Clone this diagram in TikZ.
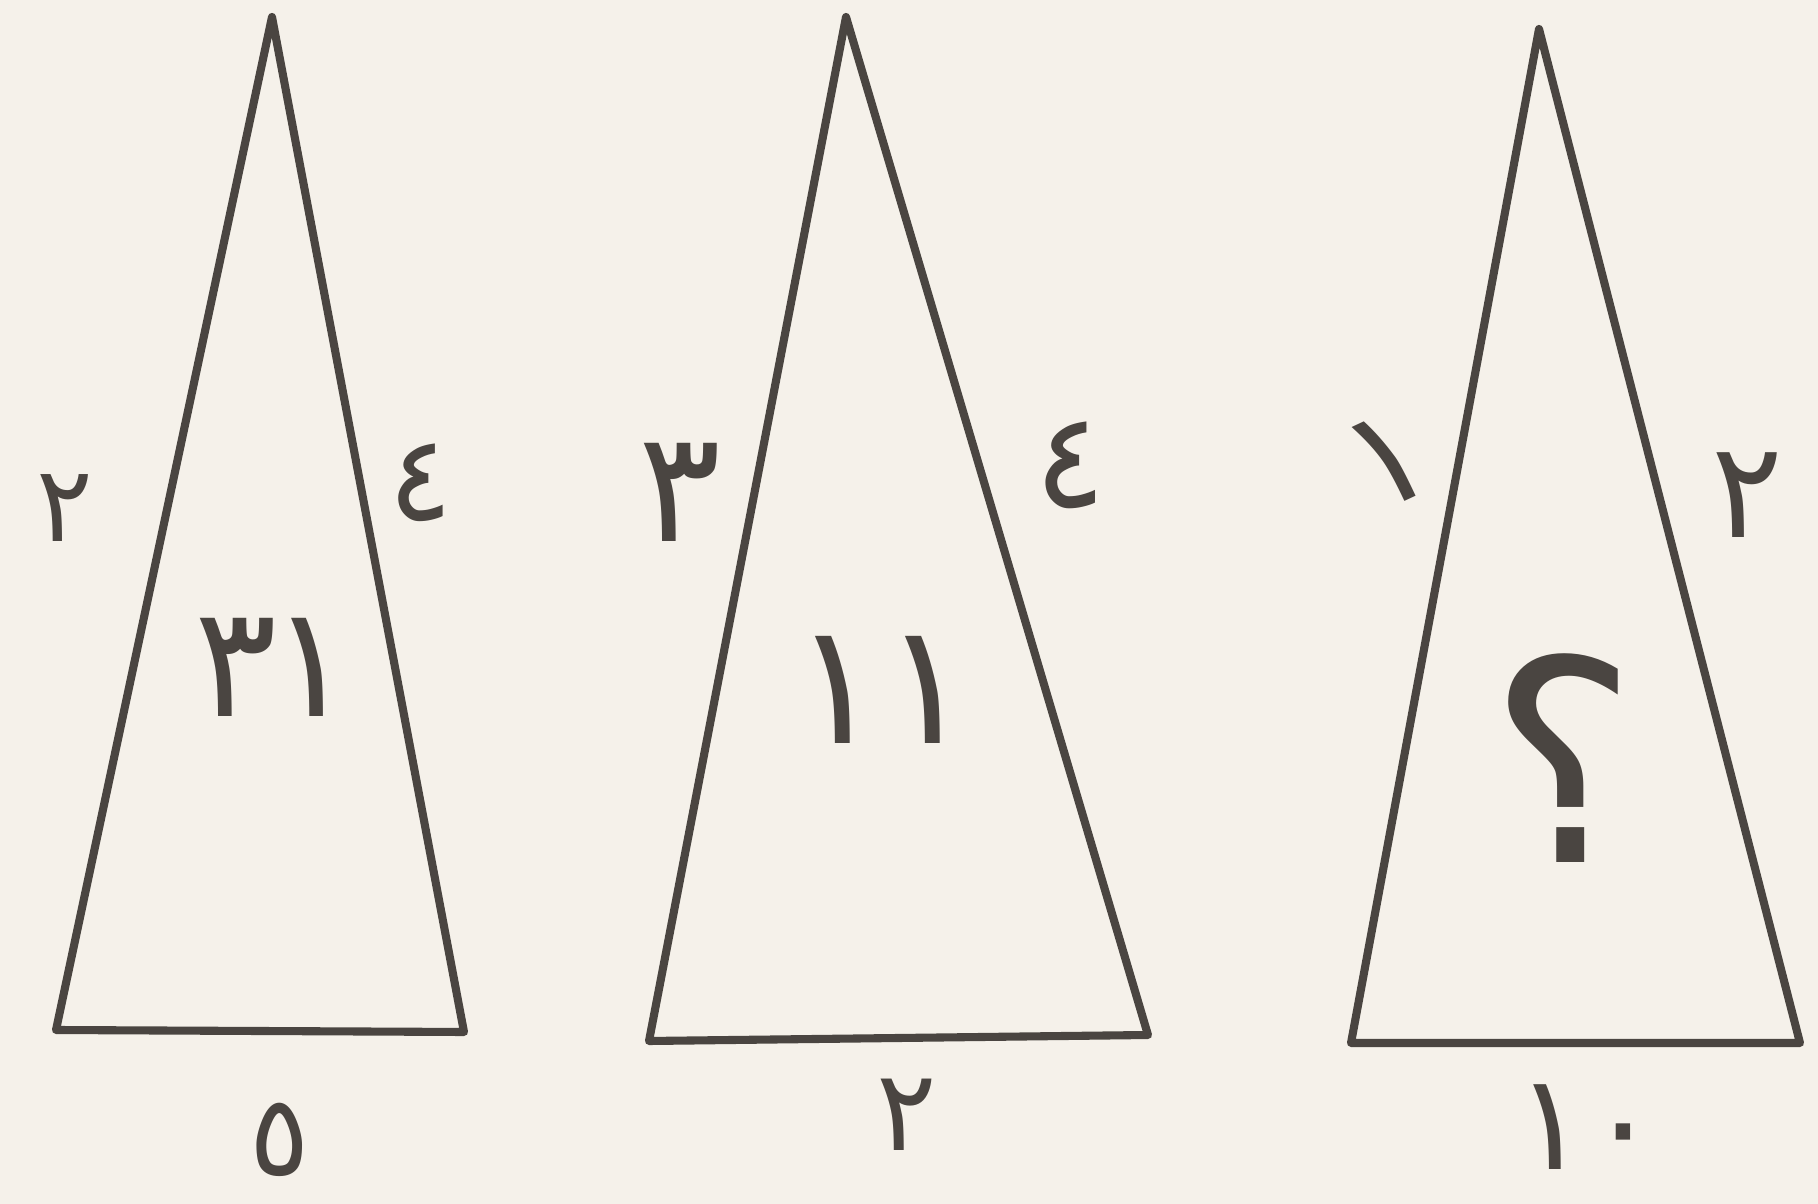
\documentclass[tikz,border=0pt]{standalone}
\usepackage{fontspec}
\newfontfamily\arabicfont[Script=Arabic]{DejaVu Sans}
\TeXXeTstate=1
\definecolor{paper}{HTML}{F5F1EA}
\definecolor{pencil}{HTML}{4A4541}
\tikzset{
  side/.style={draw=pencil, line width=2.3pt, line join=round, line cap=round},
  digit/.style={text=pencil, inner sep=0pt, font=\arabicfont\fontsize{#1}{#1}\selectfont},
  digit/.default=30
}

\begin{document}
\begin{tikzpicture}[x=0.01cm, y=-0.01cm]
  \fill[paper] (0,0) rectangle (1818,1204);
  \useasboundingbox (0,0) rectangle (1818,1204);
  % first triangle
  \coordinate (t1top) at (272,17);
  \coordinate (t1left) at (56,1030);
  \coordinate (t1right) at (464,1032);
  \draw[side] (t1top) -- (t1left) -- (t1right) -- cycle;
  \node[digit] (t1a) at (65,508) {٢};
  \node[digit=34] (t1b) at (421,483) {٤};
  \node[digit=44] (t1in) at (274,667) {٣\kern-2pt١};
  \node[digit=32] (t1base) at (280,1140) {٥};
  % second triangle
  \coordinate (t2top) at (846,17);
  \coordinate (t2left) at (649,1041);
  \coordinate (t2right) at (1148,1035);
  \draw[side] (t2top) -- (t2left) -- (t2right) -- cycle;
  \node[digit=44] (t2a) at (680,492) {٣};
  \node[digit=38] (t2b) at (1070,465) {٤};
  \node[digit=48] (t2in) at (883,690) {١١};
  \node[digit=32] (t2base) at (907,1115) {٢};
  % third triangle
  \coordinate (t3top) at (1539,29);
  \coordinate (t3left) at (1351,1043);
  \coordinate (t3right) at (1800,1043);
  \draw[side] (t3top) -- (t3left) -- (t3right) -- cycle;
  \node[digit=40, rotate=25] (t3a) at (1388,460) {١};
  \node[digit=38] (t3b) at (1747,495) {٢};
  \node[digit=80] (t3in) at (1563,758) {؟};
  \node[digit=38] (t3base) at (1587,1127) {١٠};
\end{tikzpicture}
\end{document}
